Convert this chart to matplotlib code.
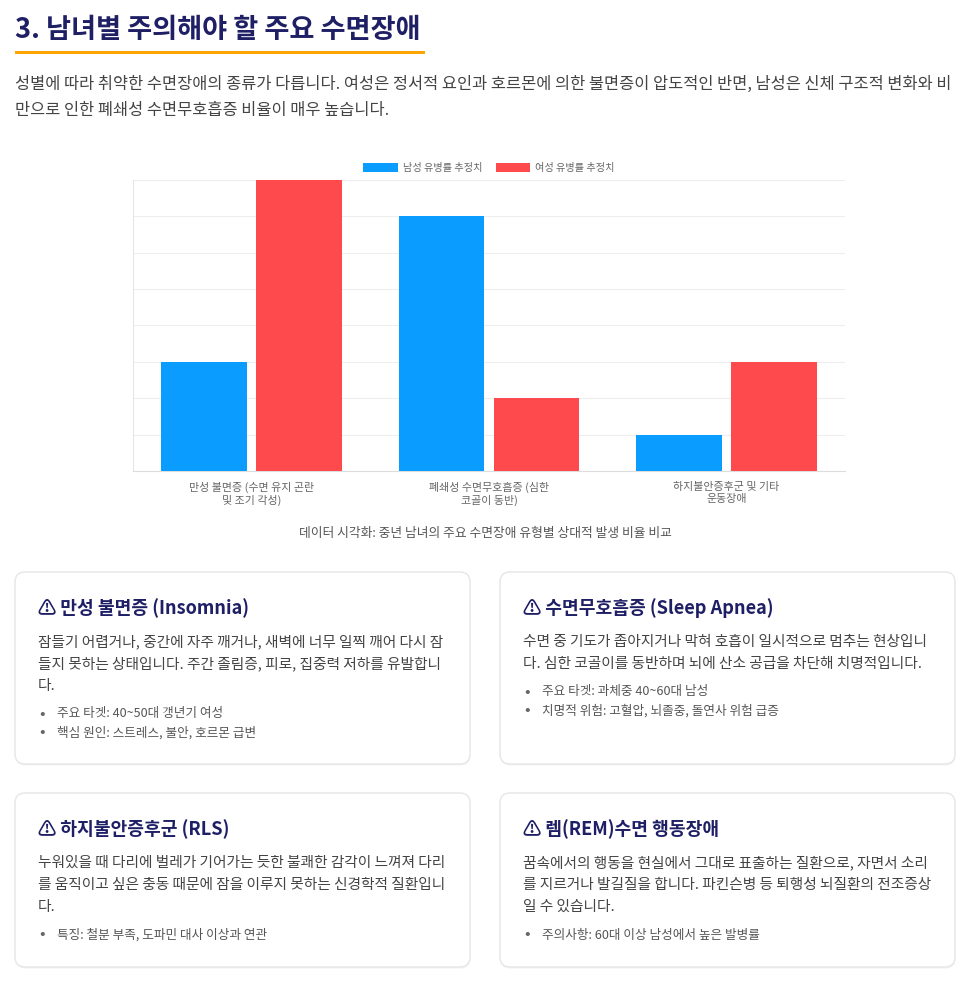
import matplotlib.pyplot as plt
from matplotlib.patches import FancyBboxPatch, Rectangle
import numpy as np

plt.rcParams['font.family'] = ['Noto Sans CJK KR', 'DejaVu Sans']

# chart data
categories = ["만성 불면증 (수면 유지 곤란\n및 조기 각성)",
              "폐쇄성 수면무호흡증 (심한\n코골이 동반)",
              "하지불안증후군 및 기타\n운동장애"]
male = [30, 70, 10]
female = [80, 20, 30]
series_labels = ["남성 유병률 추정치", "여성 유병률 추정치"]

title = "3. 남녀별 주의해야 할 주요 수면장애"
intro = ["성별에 따라 취약한 수면장애의 종류가 다릅니다. 여성은 정서적 요인과 호르몬에 의한 불면증이 압도적인 반면, 남성은 신체 구조적 변화와 비",
         "만으로 인한 폐쇄성 수면무호흡증 비율이 매우 높습니다."]
caption = "데이터 시각화: 중년 남녀의 주요 수면장애 유형별 상대적 발생 비율 비교"

card_titles = ["⚠ 만성 불면증 (Insomnia)", "⚠ 수면무호흡증 (Sleep Apnea)",
               "⚠ 하지불안증후군 (RLS)", "⚠ 렘(REM)수면 행동장애"]
card_body = [
    ["잠들기 어렵거나, 중간에 자주 깨거나, 새벽에 너무 일찍 깨어 다시 잠",
     "들지 못하는 상태입니다. 주간 졸림증, 피로, 집중력 저하를 유발합니",
     "다."],
    ["수면 중 기도가 좁아지거나 막혀 호흡이 일시적으로 멈추는 현상입니",
     "다. 심한 코골이를 동반하며 뇌에 산소 공급을 차단해 치명적입니다."],
    ["누워있을 때 다리에 벌레가 기어가는 듯한 불쾌한 감각이 느껴져 다리",
     "를 움직이고 싶은 충동 때문에 잠을 이루지 못하는 신경학적 질환입니",
     "다."],
    ["꿈속에서의 행동을 현실에서 그대로 표출하는 질환으로, 자면서 소리",
     "를 지르거나 발길질을 합니다. 파킨슨병 등 퇴행성 뇌질환의 전조증상",
     "일 수 있습니다."],
]
card_bullets = [
    ["주요 타겟: 40~50대 갱년기 여성", "핵심 원인: 스트레스, 불안, 호르몬 급변"],
    ["주요 타겟: 과체중 40~60대 남성", "치명적 위험: 고혈압, 뇌졸중, 돌연사 위험 급증"],
    ["특징: 철분 부족, 도파민 대사 이상과 연관"],
    ["주의사항: 60대 이상 남성에서 높은 발병률"],
]

W, H = 975, 984
navy = "#1f1f66"
fig = plt.figure(figsize=(W / 100, H / 100), dpi=100)
bg = fig.add_axes([0, 0, 1, 1])
bg.set_xlim(0, W)
bg.set_ylim(H, 0)
bg.axis("off")

# header
bg.text(15, 30, title, fontsize=19.6, fontweight="bold", color=navy, va="center")
bg.add_patch(Rectangle((15, 50.5), 410, 3.5, color="#ffa500", lw=0))
for i, line in enumerate(intro):
    bg.text(15, 84 + i * 26, line, fontsize=11.8, color="#444444", va="center")

# chart
ax = fig.add_axes([133 / W, 1 - 471 / H, 712 / W, 291 / H])
x = np.arange(len(categories))
ax.bar(x - 0.2, male, 0.36, color="#0a9cff", label=series_labels[0], zorder=3)
ax.bar(x + 0.2, female, 0.36, color="#ff4a4d", label=series_labels[1], zorder=3)
ax.set_xlim(-0.5, 2.5)
ax.set_ylim(0, 80)
ax.set_yticks(np.arange(0, 81, 10))
ax.set_yticklabels([])
ax.tick_params(axis="y", length=0)
ax.tick_params(axis="x", length=0, pad=8)
ax.set_xticks(x)
ax.set_xticklabels(categories, fontsize=7.9, color="#666666", linespacing=1.2)
ax.grid(axis="y", color="#eeeeee", lw=0.8, zorder=0)
for s in ["top", "right"]:
    ax.spines[s].set_visible(False)
ax.spines["left"].set_color("#e6e6e6")
ax.spines["bottom"].set_color("#dddddd")
ax.legend(loc="lower center", bbox_to_anchor=(0.5, 1.0), ncol=2, frameon=False,
          fontsize=7.3, labelcolor="#666666", handlelength=3.4, handleheight=1.0,
          columnspacing=1.3, handletextpad=0.5, borderaxespad=0.3)

bg.text(485, 533, caption, fontsize=9.2, color="#555555", ha="center", va="center")

# cards
cards = [(15, 572, 455, 192), (500, 572, 455, 192),
         (15, 793, 455, 174), (500, 793, 455, 174)]
for k, (cx, cy, cw, ch) in enumerate(cards):
    bg.add_patch(FancyBboxPatch((cx + 0.5, cy + 1.5), cw, ch,
                                boxstyle="round,pad=0,rounding_size=10",
                                fc="#f3f3f3", ec="none", zorder=1))
    bg.add_patch(FancyBboxPatch((cx, cy), cw, ch,
                                boxstyle="round,pad=0,rounding_size=10",
                                fc="white", ec="#e6e6e6", lw=1, zorder=2))
    tx = cx + 23
    ty = cy + 36
    bg.text(tx, ty, card_titles[k], fontsize=13.1, fontweight="bold",
            color=navy, va="center", zorder=3)
    by = ty + 34
    for line in card_body[k]:
        bg.text(tx, by, line, fontsize=10.6, color="#444444", va="center", zorder=3)
        by += 22
    by += 6
    for b in card_bullets[k]:
        bg.text(tx + 1, by, "•", fontsize=12, color="#666666", va="center", zorder=3)
        bg.text(tx + 19, by, b, fontsize=9.1, color="#555555", va="center", zorder=3)
        by += 18.5

fig.savefig("out.png", dpi=100, facecolor="white")
